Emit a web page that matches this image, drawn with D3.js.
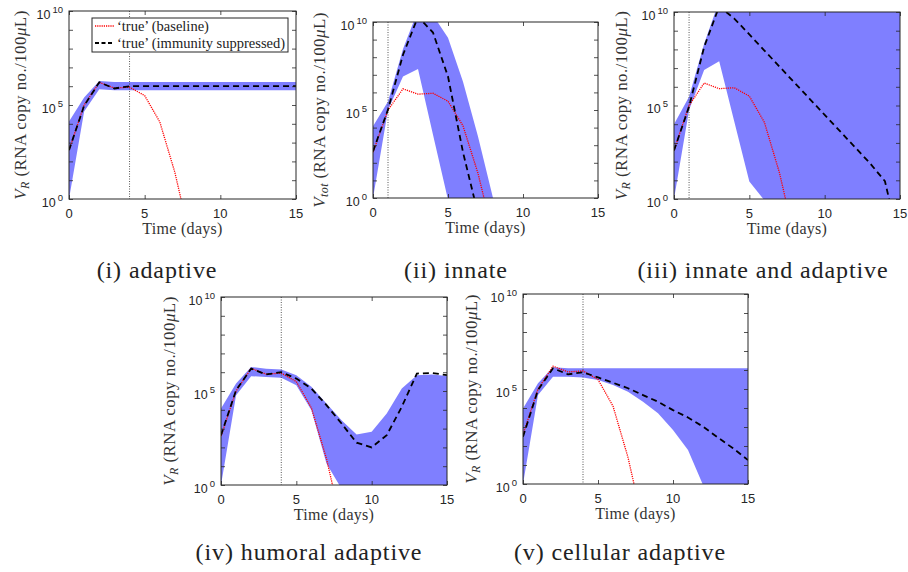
<!DOCTYPE html>
<html>
<head>
<meta charset="utf-8">
<script src="https://cdn.jsdelivr.net/npm/d3@7.9.0/dist/d3.min.js"></script>
<style>
  body { margin: 0; background: #fff; }
  svg { display: block; }
  .tick text { display: none; }
</style>
</head>
<body>
<svg id="chart" width="908" height="572"></svg>
<script>
// === Data (values are log10 of RNA copy no./100uL) ===
const days = [0, 1, 2, 3, 4, 5, 6, 7, 8, 9, 10, 11, 12, 13, 14, 15];
const yDecades = [0, 1, 2, 3, 4, 5, 6, 7, 8, 9, 10];
const yLabelled = [0, 5, 10];
const xTicks = [0, 5, 10, 15];

// 'true' baseline, the same in every panel (days 0-8)
const baseline = [2.6, 5.0, 6.2, 5.9, 5.95, 5.5, 4.1, 1.4, -2.1];

// (i) adaptive
const adaptiveTrue = [2.6, 4.96, 6.21, 5.88, 6.0, 6.0, 6.0, 6.0, 6.0, 6.0, 6.0, 6.0, 6.0, 6.0, 6.0, 6.0];
const adaptiveHi = [4.12, 5.4, 6.28, 6.23, 6.23, 6.23, 6.23, 6.23, 6.23, 6.23, 6.23, 6.23, 6.23, 6.23, 6.23, 6.23];
const adaptiveLo = [0, 4.65, 5.84, 5.79, 5.79, 5.79, 5.79, 5.79, 5.79, 5.79, 5.79, 5.79, 5.79, 5.79, 5.79, 5.79];

// (ii) innate
const innateTrue = [2.65, 5.02, 8.14, 10.3, 9.4, 6.9, 2.6, -0.9];
const innateHi = [4.07, 5.49, 8.47, 10.66, 10.39, 9.1, 6.6, 3.5, 0, -3, -3, -3, -3, -3, -3, -3];
const innateLo = [0, 5.0, 6.9, 7.33, 3.6, -0.1, -3, -3, -3, -3, -3, -3, -3, -3, -3, -3];

// (iii) innate and adaptive
const bothTrue = [2.6, 4.94, 8.13, 10.3, 9.65, 8.8, 7.94, 7.08, 6.22, 5.36, 4.5, 3.64, 2.78, 1.92, 0.95, -2.5];
const bothHi = [4.0, 5.47, 8.3, 10.6, 11, 11, 11, 11, 11, 11, 11, 11, 11, 11, 11, 11];
const bothLo = [0, 4.76, 6.9, 7.37, 4.15, 0.94, -0.07, -3, -3, -3, -3, -3, -3, -3, -3, -3];

// (iv) humoral adaptive
const humoralTrue = [2.65, 5.04, 6.19, 5.88, 6.0, 5.66, 5.13, 4.25, 3.27, 2.25, 2.0, 2.65, 4.16, 5.93, 5.96, 5.84];
const humoralHi = [4.07, 5.4, 6.28, 6.19, 6.14, 5.84, 5.22, 4.34, 3.45, 2.69, 2.83, 3.8, 5.13, 5.84, 5.88, 5.8];
const humoralLo = [0, 4.78, 5.79, 5.75, 5.7, 5.31, 3.98, 1.15, -0.2, -3, -3, -3, -3, -3, -3, -3];

// (v) cellular adaptive
const cellularTrue = [2.49, 4.95, 6.09, 5.77, 5.88, 5.61, 5.33, 5.04, 4.68, 4.33, 3.89, 3.5, 3.02, 2.44, 1.88, 1.26];
const cellularHi = [3.98, 5.3, 6.14, 6.09, 6.09, 6.09, 6.09, 6.09, 6.09, 6.09, 6.09, 6.09, 6.09, 6.09, 6.09, 6.09];
const cellularLo = [0, 4.68, 5.65, 5.65, 5.6, 5.47, 5.21, 4.86, 4.33, 3.72, 2.84, 1.79, -0.05, -3, -3, -3];

const legendLabels = ['\u2018true\u2019 (baseline)', '\u2018true\u2019 (immunity suppressed)'];

// === Layout ===
const panels = [
  { id: 'i', caption: '(i) adaptive', sub: 'R', left: 69, right: 296, top: 11, bottom: 199,
    vline: 4, truth: adaptiveTrue, hi: adaptiveHi, lo: adaptiveLo, ylabX: 21, capX: 157, capY: 278, legend: true },
  { id: 'ii', caption: '(ii) innate', sub: 'tot', left: 373, right: 598, top: 22, bottom: 198,
    vline: 1, truth: innateTrue, hi: innateHi, lo: innateLo, ylabX: 320, capX: 456, capY: 278 },
  { id: 'iii', caption: '(iii) innate and adaptive', sub: 'R', left: 674, right: 900, top: 12, bottom: 199,
    vline: 1, truth: bothTrue, hi: bothHi, lo: bothLo, ylabX: 622, capX: 763, capY: 278 },
  { id: 'iv', caption: '(iv) humoral adaptive', sub: 'R', left: 221, right: 447, top: 297, bottom: 485,
    vline: 4, truth: humoralTrue, hi: humoralHi, lo: humoralLo, ylabX: 170, capX: 309, capY: 560 },
  { id: 'v', caption: '(v) cellular adaptive', sub: 'R', left: 523, right: 748, top: 294, bottom: 484,
    vline: 4, truth: cellularTrue, hi: cellularHi, lo: cellularLo, ylabX: 472, capX: 620, capY: 560 }
];

const serif = "'Liberation Serif', 'DejaVu Serif', serif";
const sans = "'Liberation Sans', Arial, sans-serif";
const axisColor = '#262626';
const bandColor = '#7f7fff';

const svg = d3.select('#chart');
svg.append('rect').attr('width', 908).attr('height', 572).attr('fill', '#fff');

function drawPanel(p) {
  const x = d3.scaleLinear().domain([0, 15]).range([p.left, p.right]);
  const y = d3.scaleLog().domain([1, 1e10]).range([p.bottom, p.top]);
  const g = svg.append('g');

  g.append('clipPath').attr('id', 'clip-' + p.id)
    .append('rect')
    .attr('x', p.left).attr('y', p.top)
    .attr('width', p.right - p.left).attr('height', p.bottom - p.top);

  const plot = g.append('g').attr('clip-path', `url(#clip-${p.id})`);

  // blue band
  const band = d3.area()
    .x((d, i) => x(days[i]))
    .y0((d, i) => y(Math.pow(10, p.lo[i])))
    .y1(d => y(Math.pow(10, d)));
  plot.append('path').datum(p.hi).attr('d', band).attr('fill', bandColor);

  // dotted vertical marker
  plot.append('line')
    .attr('x1', x(p.vline)).attr('x2', x(p.vline))
    .attr('y1', p.top).attr('y2', p.bottom)
    .attr('stroke', '#444').attr('stroke-width', 0.9)
    .attr('stroke-dasharray', '1,1.5');

  const line = d3.line().x((d, i) => x(days[i])).y(d => y(Math.pow(10, d)));

  plot.append('path').datum(baseline).attr('d', line)
    .attr('fill', 'none').attr('stroke', '#ff0000').attr('stroke-width', 1.3)
    .attr('stroke-dasharray', '1.2,1');

  plot.append('path').datum(p.truth).attr('d', line)
    .attr('fill', 'none').attr('stroke', '#000').attr('stroke-width', 1.8)
    .attr('stroke-dasharray', '6,4');

  // axes (ticks inward, on all four sides)
  const decadeVals = yDecades.map(d => Math.pow(10, d));
  const axes = [
    d3.axisBottom(x).tickValues(xTicks).tickSizeInner(-4).tickSizeOuter(0),
    d3.axisTop(x).tickValues(xTicks).tickSizeInner(-4).tickSizeOuter(0),
    d3.axisLeft(y).tickValues(decadeVals).tickSizeInner(-4).tickSizeOuter(0),
    d3.axisRight(y).tickValues(decadeVals).tickSizeInner(-4).tickSizeOuter(0)
  ];
  const shifts = [[0, p.bottom], [0, p.top], [p.left, 0], [p.right, 0]];
  axes.forEach((ax, k) => {
    const a = g.append('g').attr('transform', `translate(${shifts[k][0]},${shifts[k][1]})`).call(ax);
    a.select('.domain').remove();
    a.selectAll('line').attr('stroke', axisColor).attr('stroke-width', 0.8);
  });

  g.append('rect')
    .attr('x', p.left).attr('y', p.top)
    .attr('width', p.right - p.left).attr('height', p.bottom - p.top)
    .attr('fill', 'none').attr('stroke', axisColor).attr('stroke-width', 1);

  // x tick labels
  xTicks.forEach(t => {
    g.append('text').attr('x', x(t)).attr('y', p.bottom + 19)
      .attr('text-anchor', 'middle').attr('font-family', sans).attr('font-size', 13)
      .attr('fill', axisColor).text(t);
  });

  // y tick labels 10^k
  yLabelled.forEach(k => {
    const t = g.append('text').attr('x', p.left - 6).attr('y', y(Math.pow(10, k)) + 7.5)
      .attr('text-anchor', 'end').attr('font-family', sans).attr('font-size', 12.5)
      .attr('fill', axisColor);
    t.append('tspan').text('10');
    t.append('tspan').attr('dx', 2).attr('dy', -6).attr('font-size', 9.5).text(k);
  });

  // x label
  g.append('text').attr('x', (p.left + p.right) / 2).attr('y', p.bottom + 35)
    .attr('text-anchor', 'middle').attr('font-family', serif).attr('font-size', 16)
    .attr('letter-spacing', 0.3).attr('fill', '#333').text('Time (days)');

  // y label
  const cy = (p.top + p.bottom) / 2;
  const yl = g.append('text')
    .attr('transform', `translate(${p.ylabX + 5},${cy}) rotate(-90)`)
    .attr('text-anchor', 'middle').attr('font-family', serif).attr('font-size', 17)
    .attr('letter-spacing', 0.4).attr('fill', '#333');
  yl.append('tspan').attr('font-style', 'italic').text('V');
  yl.append('tspan').attr('font-style', 'italic').attr('font-size', 12).attr('dy', 3).text(p.sub);
  yl.append('tspan').attr('dy', -3).text(' (RNA copy no./100');
  yl.append('tspan').attr('font-style', 'italic').text('\u03bc');
  yl.append('tspan').text('L)');

  // caption
  svg.append('text').attr('x', p.capX).attr('y', p.capY)
    .attr('text-anchor', 'middle').attr('font-family', serif).attr('font-size', 24)
    .attr('letter-spacing', 0.9).attr('fill', '#222').text(p.caption);

  if (p.legend) drawLegend(g);
}

function drawLegend(g) {
  const lg = g.append('g');
  lg.append('rect').attr('x', 92).attr('y', 18).attr('width', 196).attr('height', 34)
    .attr('fill', '#fff').attr('stroke', axisColor).attr('stroke-width', 1);
  const styles = [
    { stroke: '#ff0000', width: 1.3, dash: '1.2,1' },
    { stroke: '#000', width: 1.8, dash: '4,2.5' }
  ];
  legendLabels.forEach((lab, i) => {
    const yy = 26 + i * 17;
    lg.append('line').attr('x1', 95).attr('x2', 114).attr('y1', yy).attr('y2', yy)
      .attr('stroke', styles[i].stroke).attr('stroke-width', styles[i].width)
      .attr('stroke-dasharray', styles[i].dash);
    lg.append('text').attr('x', 117).attr('y', yy + 4.5)
      .attr('font-family', serif).attr('font-size', 14.5).attr('fill', '#222').text(lab);
  });
}

panels.forEach(drawPanel);
</script>
</body>
</html>
